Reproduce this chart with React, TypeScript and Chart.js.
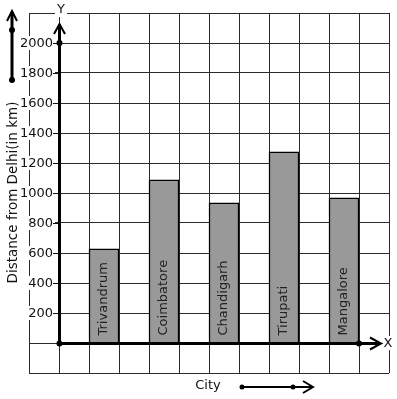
import React, { useEffect, useRef } from "react";
import { Chart, registerables } from "chart.js";

Chart.register(...registerables);

const cities = ["Trivandrum", "Coimbatore", "Chandigarh", "Tirupati", "Mangalore"];
const distances = [628, 1088, 935, 1275, 968];
const yTickValues = [200, 400, 600, 800, 1000, 1200, 1400, 1600, 1800, 2000];
const yTitle = "Distance from Delhi(in km)";
const xTitle = "City";

const SLOTS = 12;
const slotLabels: string[] = Array(SLOTS).fill("");
const slotData: (number | null)[] = Array(SLOTS).fill(null);
cities.forEach((c, i) => {
  slotLabels[2 + 2 * i] = c;
  slotData[2 + 2 * i] = distances[i];
});

const FONT = "13px 'DejaVu Sans'";

function dot(ctx: CanvasRenderingContext2D, x: number, y: number, r = 3) {
  ctx.beginPath();
  ctx.arc(x, y, r, 0, Math.PI * 2);
  ctx.fill();
}

const overlay = {
  id: "overlay",
  afterDraw(chart: any) {
    const ctx: CanvasRenderingContext2D = chart.ctx;
    const xs = chart.scales.x;
    const ys = chart.scales.y;
    const ox = Math.round(xs.getPixelForValue(1) - (xs.getPixelForValue(2) - xs.getPixelForValue(1)) / 2) + 0.5;
    const oy = Math.round(ys.getPixelForValue(0)) + 0.5;
    ctx.save();

    // bar labels
    ctx.fillStyle = "#222";
    ctx.font = FONT;
    ctx.textAlign = "left";
    ctx.textBaseline = "middle";
    cities.forEach((c, i) => {
      const cx = xs.getPixelForValue(2 + 2 * i);
      ctx.save();
      ctx.translate(cx, oy - 8);
      ctx.rotate(-Math.PI / 2);
      ctx.fillText(c, 0, 0);
      ctx.restore();
    });

    // y tick labels
    ctx.textAlign = "right";
    yTickValues.forEach((v) => {
      const py = ys.getPixelForValue(v);
      const label = String(v);
      const w = ctx.measureText(label).width;
      ctx.fillStyle = "#fff";
      ctx.fillRect(53 - w - 3, py - 7, w + 5, 14);
      ctx.fillStyle = "#111";
      ctx.fillText(label, 53, py + 0.5);
      ctx.strokeStyle = "#111";
      ctx.lineWidth = 1;
      ctx.beginPath();
      ctx.moveTo(53, Math.round(py) + 0.5);
      ctx.lineTo(ox, Math.round(py) + 0.5);
      ctx.stroke();
    });

    // Y label
    ctx.textAlign = "center";
    ctx.fillStyle = "#fff";
    ctx.fillRect(55, 3, 12, 14);
    ctx.fillStyle = "#111";
    ctx.fillText("Y", 61, 10);

    // X label
    ctx.fillStyle = "#fff";
    ctx.fillRect(383, 336, 12, 14);
    ctx.fillStyle = "#111";
    ctx.fillText("X", 388, oy);

    // axes
    ctx.strokeStyle = "#000";
    ctx.fillStyle = "#000";
    ctx.lineWidth = 3;
    ctx.lineCap = "butt";
    ctx.beginPath();
    ctx.moveTo(ox, oy);
    ctx.lineTo(ox, 24);
    ctx.moveTo(ox, oy);
    ctx.lineTo(380, oy);
    ctx.stroke();
    ctx.lineWidth = 2;
    ctx.beginPath();
    ctx.moveTo(54, 34);
    ctx.lineTo(ox, 24);
    ctx.lineTo(65, 34);
    ctx.moveTo(370, oy - 6);
    ctx.lineTo(381, oy);
    ctx.lineTo(370, oy + 6);
    ctx.stroke();
    dot(ctx, ox, oy);
    dot(ctx, ox, ys.getPixelForValue(2000));
    dot(ctx, xs.getPixelForValue(10) + 15, oy);

    // left decorative arrow
    ctx.lineWidth = 3;
    ctx.beginPath();
    ctx.moveTo(12, 80);
    ctx.lineTo(12, 12);
    ctx.stroke();
    ctx.lineWidth = 2;
    ctx.beginPath();
    ctx.moveTo(7, 21);
    ctx.lineTo(12, 11);
    ctx.lineTo(17, 21);
    ctx.stroke();
    dot(ctx, 12, 30);
    dot(ctx, 12, 80);

    // y title
    ctx.save();
    ctx.translate(13, 192.5);
    ctx.rotate(-Math.PI / 2);
    ctx.fillStyle = "#111";
    ctx.textAlign = "center";
    ctx.textBaseline = "middle";
    ctx.font = "13.5px 'DejaVu Sans'";
    ctx.fillText(yTitle, 0, 0);
    ctx.restore();

    // x title and arrow
    ctx.font = FONT;
    ctx.fillStyle = "#111";
    ctx.textAlign = "center";
    ctx.textBaseline = "middle";
    ctx.fillText(xTitle, 208, 386);
    ctx.strokeStyle = "#000";
    ctx.fillStyle = "#000";
    ctx.lineWidth = 2;
    ctx.beginPath();
    ctx.moveTo(242, 387);
    ctx.lineTo(312, 387);
    ctx.moveTo(303, 381);
    ctx.lineTo(313, 387);
    ctx.lineTo(303, 393);
    ctx.stroke();
    dot(ctx, 242, 387, 2.5);
    dot(ctx, 293, 387, 2.5);

    ctx.restore();
  },
};

export default function App() {
  const ref = useRef<HTMLCanvasElement | null>(null);
  useEffect(() => {
    if (!ref.current) return;
    const chart = new Chart(ref.current, {
      type: "bar",
      data: {
        labels: slotLabels,
        datasets: [
          {
            data: slotData,
            backgroundColor: "#999999",
            borderColor: "#000",
            borderWidth: 1.5,
            barPercentage: 1,
            categoryPercentage: 1,
          },
        ],
      },
      options: {
        animation: false,
        responsive: false,
        events: [],
        layout: { padding: { left: 29, top: 13, right: 8, bottom: 26 } },
        plugins: { legend: { display: false }, tooltip: { enabled: false } },
        scales: {
          x: {
            type: "category",
            offset: true,
            grid: { offset: true, color: "#2a2a2a", lineWidth: 1, drawTicks: false },
            border: { display: false },
            ticks: { display: false },
            afterFit: (s: any) => {
              s.height = 0;
            },
          },
          y: {
            type: "linear",
            min: -200,
            max: 2200,
            ticks: { display: false, stepSize: 200 },
            grid: { color: "#2a2a2a", lineWidth: 1, drawTicks: false },
            border: { display: false },
            afterFit: (s: any) => {
              s.width = 0;
            },
          },
        },
      },
      plugins: [overlay],
    });
    return () => chart.destroy();
  }, []);
  return (
    <div style={{ position: "fixed", left: 0, top: 0, width: 397, height: 399, background: "#fff" }}>
      <canvas ref={ref} width={397} height={399} />
    </div>
  );
}
